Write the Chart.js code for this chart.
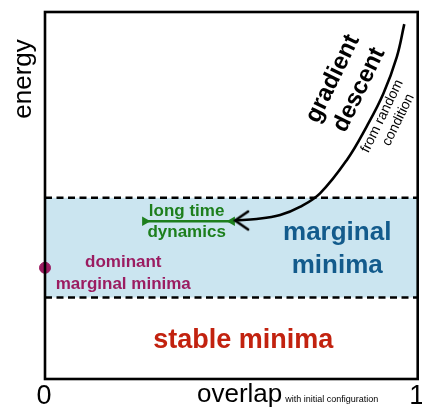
<!DOCTYPE html>
<html>
<head>
<meta charset="utf-8">
<script src="https://cdn.jsdelivr.net/npm/chart.js@4"></script>
<style>
  html, body { margin: 0; padding: 0; background: #fff; overflow: hidden; }
  #wrap { width: 422px; height: 409px; }
</style>
</head>
<body>
<div id="wrap"><canvas id="chart"></canvas></div>
<script>
// Schematic: energy vs overlap with initial configuration

// Data (x = overlap 0..1, y = energy 0..1)
const xTickValues = [0, 1];
const xTickLabels = ['0', '1'];
const bandX = [0, 1];
const bandUpper = [0.494, 0.494];
const bandLower = [0.222, 0.222];
const gradX = [0.964, 0.944, 0.908, 0.863, 0.810, 0.738, 0.684, 0.631, 0.568, 0.510];
const gradY = [0.967, 0.878, 0.778, 0.688, 0.597, 0.506, 0.469, 0.447, 0.436, 0.432];
const longX = [0.268, 0.502];
const longY = [0.430, 0.430];
const dominantX = [0];
const dominantY = [0.303];

// Colours
const BAND = '#cbe5f0';
const PURPLE = '#9b1c61';
const GREEN = '#1d7f1d';
const BLUE = '#135b8c';
const RED = '#c2220f';
const FONT = "'Liberation Sans', Arial, Helvetica, sans-serif";

function pts(xs, ys) {
    return xs.map((x, i) => ({ x: x, y: ys[i] }));
}

// open chevron arrow head, tip at the canvas centre, pointing left
const arrowHead = document.createElement('canvas');
arrowHead.width = 32;
arrowHead.height = 32;
(function () {
    const c = arrowHead.getContext('2d');
    c.strokeStyle = '#000';
    c.lineWidth = 2.6;
    c.lineCap = 'round';
    c.beginPath();
    c.moveTo(29, 7);
    c.lineTo(16, 16);
    c.lineTo(29, 25);
    c.stroke();
})();

// text labels, placed in data coordinates
const notes = [
    { text: 'long time', x: 0.380, y: 0.458, size: 17, bold: true, color: GREEN },
    { text: 'dynamics', x: 0.380, y: 0.399, size: 17, bold: true, color: GREEN },
    { text: 'dominant', x: 0.210, y: 0.319, size: 17, bold: true, color: PURPLE },
    { text: 'marginal minima', x: 0.210, y: 0.259, size: 17, bold: true, color: PURPLE },
    { text: 'marginal', x: 0.784, y: 0.398, size: 26, bold: true, color: BLUE },
    { text: 'minima', x: 0.784, y: 0.308, size: 26, bold: true, color: BLUE },
    { text: 'stable minima', x: 0.532, y: 0.104, size: 27, bold: true, color: RED },
    { text: 'gradient', x: 0.772, y: 0.818, size: 24, bold: true, color: '#000', rot: -64 },
    { text: 'descent', x: 0.843, y: 0.788, size: 24, bold: true, color: '#000', rot: -64 },
    { text: 'from random', x: 0.905, y: 0.716, size: 14, bold: false, color: '#000', rot: -64 },
    { text: 'condition', x: 0.948, y: 0.706, size: 14, bold: false, color: '#000', rot: -64 }
];

const schematicPlugin = {
    id: 'schematic',
    afterDatasetsDraw(chart) {
        const ctx = chart.ctx;
        const a = chart.chartArea;
        const sx = chart.scales.x;
        const sy = chart.scales.y;

        ctx.save();
        ctx.textAlign = 'center';
        ctx.textBaseline = 'middle';
        notes.forEach(n => {
            ctx.save();
            ctx.translate(sx.getPixelForValue(n.x), sy.getPixelForValue(n.y));
            if (n.rot) ctx.rotate(n.rot * Math.PI / 180);
            ctx.font = (n.bold ? 'bold ' : '') + n.size + 'px ' + FONT;
            ctx.fillStyle = n.color;
            ctx.fillText(n.text, 0, 0);
            ctx.restore();
        });

        // axis titles
        ctx.fillStyle = '#000';
        ctx.save();
        ctx.translate(a.left - 21, a.top + 67);
        ctx.rotate(-Math.PI / 2);
        ctx.font = '26px ' + FONT;
        ctx.fillText('energy', 0, 0);
        ctx.restore();

        // tick labels 0 and 1 on the overlap axis
        ctx.textBaseline = 'alphabetic';
        ctx.font = '27px ' + FONT;
        xTickValues.forEach((v, i) => {
            ctx.fillText(xTickLabels[i], sx.getPixelForValue(v) - 1, a.bottom + 25);
        });

        ctx.textAlign = 'left';
        ctx.font = '26px ' + FONT;
        const ox = a.left + 152;
        const oy = a.bottom + 23;
        ctx.fillText('overlap', ox, oy);
        const w = ctx.measureText('overlap').width;
        ctx.font = '9px ' + FONT;
        ctx.fillText('with initial configuration', ox + w + 3, oy);

        // frame
        ctx.strokeStyle = '#000';
        ctx.lineWidth = 2.6;
        ctx.strokeRect(a.left, a.top, a.right - a.left, a.bottom - a.top);
        ctx.restore();
    }
};

const lastIdx = gradX.length - 1;

new Chart(document.getElementById('chart'), {
    type: 'scatter',
    data: {
        datasets: [
            {
                label: 'upper bound',
                data: pts(bandX, bandUpper),
                showLine: true,
                borderColor: '#000',
                borderWidth: 2.6,
                borderDash: [7, 4.5],
                backgroundColor: BAND,
                fill: '+1',
                pointRadius: 0,
                order: 10
            },
            {
                label: 'lower bound',
                data: pts(bandX, bandLower),
                showLine: true,
                borderColor: '#000',
                borderWidth: 2.6,
                borderDash: [7, 4.5],
                fill: false,
                pointRadius: 0,
                order: 10
            },
            {
                label: 'gradient descent',
                data: pts(gradX, gradY),
                showLine: true,
                tension: 0.4,
                borderColor: '#000',
                borderWidth: 2.6,
                fill: false,
                pointRadius: ctx => ctx.dataIndex === lastIdx ? 6 : 0,
                pointStyle: ctx => ctx.dataIndex === lastIdx ? arrowHead : 'circle',
                clip: false,
                order: 1
            },
            {
                label: 'long time dynamics',
                data: pts(longX, longY),
                showLine: true,
                borderColor: GREEN,
                borderWidth: 2.4,
                backgroundColor: GREEN,
                pointBorderColor: GREEN,
                pointStyle: 'triangle',
                pointRadius: 5.5,
                pointBorderWidth: 0,
                pointRotation: ctx => ctx.dataIndex === 0 ? 90 : -90,
                fill: false,
                order: 1
            },
            {
                label: 'dominant marginal minima',
                data: pts(dominantX, dominantY),
                backgroundColor: PURPLE,
                borderColor: PURPLE,
                pointRadius: 5.5,
                clip: false,
                order: 0
            }
        ]
    },
    options: {
        responsive: true,
        maintainAspectRatio: false,
        animation: false,
        events: [],
        layout: {
            autoPadding: false,
            padding: { left: 45, top: 12, right: 4.3, bottom: 30 }
        },
        plugins: {
            legend: { display: false },
            tooltip: { enabled: false },
            filler: { drawTime: 'beforeDatasetsDraw' }
        },
        scales: {
            x: { type: 'linear', min: 0, max: 1, display: false },
            y: { type: 'linear', min: 0, max: 1, display: false }
        }
    },
    plugins: [schematicPlugin]
});
</script>
</body>
</html>
